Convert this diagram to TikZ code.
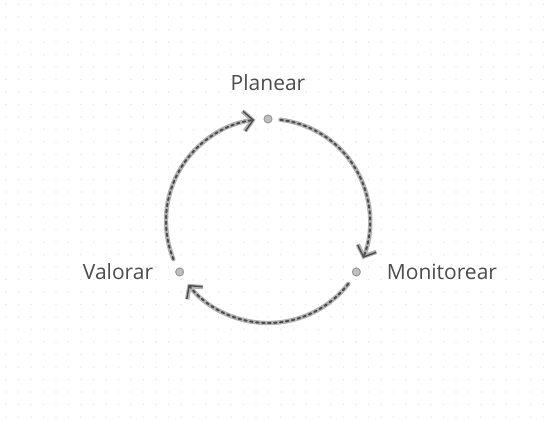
\documentclass[tikz,border=0pt]{standalone}
\usepackage{fontspec}
\setmainfont{Open Sans}
\usetikzlibrary{arrows.meta}
\tikzset{
  flow/.style={line width=4.4pt, draw=gray!60, line cap=round,
    -{Straight Barb[length=9pt,width=20pt,line width=4.4pt]},
    postaction={draw=black!70, line width=2pt, dash pattern=on 2.5pt off 3.5pt,
      -{Straight Barb[length=9pt,width=20pt,line width=1.4pt,sep=1.5pt]}}},
  stage/.style={circle, draw=gray!80, fill=gray!50, line width=1pt, inner sep=0pt, minimum size=8pt},
  stagelabel/.style={text=black!70, font=\fontsize{21}{24}\selectfont}
}
\begin{document}
\begin{tikzpicture}[x=1pt,y=1pt]
    \useasboundingbox (0,0) rectangle (551,421);
    \fill[white] (0,0) rectangle (551,421);

    % faint dotted paper
    \foreach \i in {0,...,44}
      \foreach \j in {0,...,34}
        \fill[black!9] (6+12.5*\i,4+12.5*\j) circle (0.8);

    \coordinate (c) at (268,200);

    \node[stage] (planear)    at ([shift={(90:102)}]c)  {};
    \node[stage] (monitorear) at ([shift={(-30:102)}]c) {};
    \node[stage] (valorar)    at ([shift={(210:102)}]c) {};

    \node[stagelabel, above=25pt] at (planear) {Planear};
    \node[stagelabel, right=27pt] at (monitorear) {Monitorear};
    \node[stagelabel, left=23pt]  at (valorar) {Valorar};

    \draw[flow] ([shift={(83:102)}]c)   arc[start angle=83,  end angle=-22,  radius=102];
    \draw[flow] ([shift={(-38:102)}]c)  arc[start angle=-38, end angle=-142, radius=102];
    \draw[flow] ([shift={(202:102)}]c)  arc[start angle=202, end angle=97,   radius=102];
\end{tikzpicture}
\end{document}
